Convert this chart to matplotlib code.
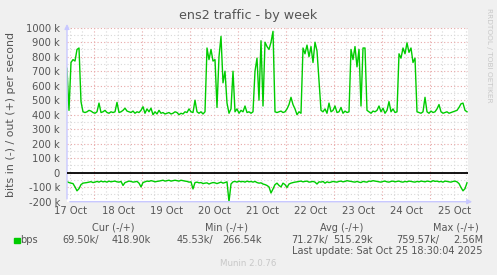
import numpy as np
import matplotlib
matplotlib.use("Agg")
import matplotlib.pyplot as plt

# outbound bits/s (k), one value per hour starting 17 Oct 10:30
out_k = [
    720, 430, 760, 780, 770, 850, 860, 490, 420, 415,
    420, 430, 425, 415, 410, 420, 480, 415, 420, 430,
    415, 410, 420, 415, 420, 485, 415, 420, 430, 445,
    425, 420, 415, 425, 410, 420, 415, 430, 455, 410,
    440, 420, 445, 400, 420, 405, 430, 410, 415, 405,
    410, 415, 405, 410, 420, 415, 400, 410, 405, 420,
    415, 440, 420, 415, 500, 420, 410, 420, 405, 420,
    860, 780, 850, 770, 780, 450, 800, 940, 620, 700,
    480, 410, 440, 700, 420, 440, 410, 430, 420, 460,
    415, 420, 410, 420, 700, 790, 500, 910, 460, 900,
    870, 850, 900, 975, 420, 415, 420, 425, 415, 420,
    440, 470, 520, 470, 440, 400, 420, 410, 860, 820,
    880, 800, 870, 760, 900, 840, 640, 430, 420, 440,
    410, 480, 420, 430, 460, 415, 420, 450, 410, 425,
    415, 420, 850, 780, 870, 730, 850, 460, 860, 860,
    430, 420, 410, 425, 420, 430, 460, 420, 445, 410,
    430, 490, 420, 440, 415, 420, 820, 790, 860, 820,
    895, 830, 860, 760, 790, 420, 415, 410, 420, 520,
    420, 410, 425, 415, 420, 440, 470, 420, 410, 415,
    420, 410, 415, 420, 425, 430, 450, 475, 480, 430,
    420,
]

# inbound bits/s (k), drawn negative
in_k = [
    62, 68, 72, 75, 98, 125, 110, 82, 72, 70,
    68, 65, 62, 68, 65, 60, 65, 58, 63, 60,
    65, 58, 63, 60, 58, 63, 65, 60, 88, 68,
    63, 58, 60, 65, 63, 60, 72, 98, 68, 63,
    58, 60, 55, 58, 63, 60, 58, 55, 52, 58,
    55, 52, 58, 55, 52, 55, 58, 52, 55, 58,
    60, 65, 63, 112, 68, 65, 70, 68, 75, 72,
    70, 78, 72, 68, 70, 75, 70, 65, 72, 68,
    63, 200, 78, 63, 60, 65, 58, 63, 60, 65,
    58, 63, 60, 65, 60, 68, 72, 70, 78, 82,
    88, 98, 140, 112, 82, 72, 88, 98, 72, 82,
    102, 78, 72, 68, 65, 63, 60, 58, 63, 60,
    58, 65, 63, 60, 65, 78, 63, 65, 60, 72,
    63, 68, 65, 60, 63, 65, 60, 58, 63, 60,
    55, 58, 60, 63, 65, 60, 65, 68, 60, 63,
    65, 58, 60, 55, 58, 60, 63, 65, 60, 58,
    63, 65, 60, 58, 63, 60, 58, 63, 65, 60,
    63, 58, 60, 63, 65, 60, 63, 58, 60, 63,
    58, 60, 63, 55, 60, 58, 63, 60, 65, 58,
    60, 63, 65, 60, 58, 63, 75, 102, 125, 110,
    70,
]

day_labels = ["17 Oct", "18 Oct", "19 Oct", "20 Oct", "21 Oct",
              "22 Oct", "23 Oct", "24 Oct", "25 Oct"]
y_ticks = [-200, -100, 0, 100, 200, 300, 400, 500, 600, 700, 800, 900, 1000]

legend_heads = ["Cur (-/+)", "Min (-/+)", "Avg (-/+)", "Max (-/+)"]
legend_in = ["69.50k/", "45.53k/", "71.27k/", "759.57k/"]
legend_out = ["418.90k", "266.54k", "515.29k", "2.56M"]

bg = "#F0F0F0"
txt = "#555555"
green = "#00CC00"
axis_col = "#C8C8FF"
major_col = "#E8A8A8"
minor_col = "#D8D8D8"

hours = np.arange(len(out_k))

fig = plt.figure(figsize=(4.97, 2.75), dpi=100, facecolor=bg)
ax = fig.add_axes([67/497, (275-201.7)/275, 401/497, 174/275])
ax.set_facecolor("white")
ax.set_xlim(0, 200.5)
ax.set_ylim(-200, 1000)
for s in ax.spines.values():
    s.set_visible(False)

# grid: minor every 6 h / 50 k, major at midnight / 100 k
dots = (0, (1, 2))
for h in np.arange(1.5, 200.5, 6):
    major = abs(((h - 13.5) % 24)) < 1e-6
    ax.axvline(h, color=major_col if major else minor_col, lw=0.8, ls=dots, zorder=1)
for v in range(-200, 1001, 50):
    ax.axhline(v, color=major_col if v % 100 == 0 else minor_col, lw=0.8, ls=dots, zorder=1)
ax.axvline(200.5, color=minor_col, lw=0.8, ls=dots, zorder=1)

ax.plot(hours, out_k, color=green, lw=1.0, zorder=3)
ax.plot(hours, -np.array(in_k), color=green, lw=1.0, zorder=3)
ax.axhline(0, color="black", lw=1.3, zorder=4)

# axis lines with arrows
ax.annotate("", xy=(0, 1045), xytext=(0, -200), annotation_clip=False,
            arrowprops=dict(arrowstyle="-|>", color=axis_col, lw=1, mutation_scale=7))
ax.annotate("", xy=(204, -200), xytext=(0, -200), annotation_clip=False,
            arrowprops=dict(arrowstyle="-|>", color=axis_col, lw=1, mutation_scale=7))

ax.set_xticks(np.arange(1.5, 200, 24))
ax.set_xticklabels(day_labels)
ax.set_yticks(y_ticks)
ax.set_yticklabels([("%d k" % v) if v != 0 else "0" for v in y_ticks])
ax.tick_params(length=0, labelsize=7.2, colors=txt)
ax.tick_params(axis="x", pad=3)
ax.tick_params(axis="y", pad=5)
ax.set_ylabel("bits in (-) / out (+) per second", fontsize=7.9, color=txt)
ax.yaxis.set_label_coords(-0.128, 0.5)

fig.text(248/497, 1 - 16/275, "ens2 traffic - by week", ha="center", va="center",
         fontsize=9.2, color=txt)
fig.text(489/497, 1 - 55/275, "RRDTOOL / TOBI OETIKER", rotation=270, ha="center",
         va="center", fontsize=5.3, color="#C8C8C8")

# legend block
head_x = [135, 248, 363, 479]
in_x = [99, 213, 328, 439]
out_x = [151, 262, 373, 483]
for i in range(4):
    fig.text(head_x[i]/497, 1 - 228/275, legend_heads[i], ha="right", va="center",
             fontsize=7.0, color=txt)
    fig.text(in_x[i]/497, 1 - 240/275, legend_in[i], ha="right", va="center",
             fontsize=7.0, color=txt)
    fig.text(out_x[i]/497, 1 - 240/275, legend_out[i], ha="right", va="center",
             fontsize=7.0, color=txt)
fig.patches.append(plt.Rectangle((14/497, 1 - 243/275), 5.5/497, 5.5/275,
                                 transform=fig.transFigure, color=green))
fig.text(20.5/497, 1 - 240/275, "bps", ha="left", va="center", fontsize=7.0, color=txt)
fig.text(483/497, 1 - 251/275, "Last update: Sat Oct 25 18:30:04 2025", ha="right",
         va="center", fontsize=7.0, color=txt)
fig.text(248/497, 1 - 264/275, "Munin 2.0.76", ha="center", va="center",
         fontsize=6.2, color="#C8C8C8")

fig.savefig("out.png", dpi=100, facecolor=bg)
